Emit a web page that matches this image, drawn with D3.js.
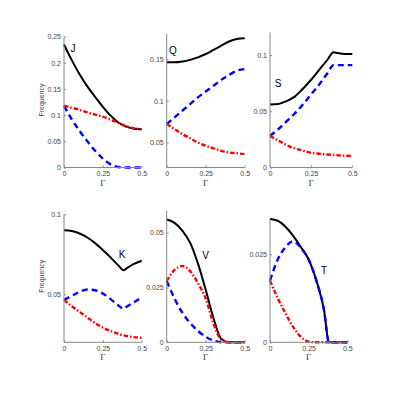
<!DOCTYPE html>
<html>
<head>
<meta charset="utf-8">
<script src="https://cdn.jsdelivr.net/npm/d3@7"></script>
<style>
  body { margin: 0; background: #fff; }
  .tick-label { font-family: "Liberation Sans", Arial, sans-serif; font-size: 7px; fill: #444; }
  .axis-title { font-family: "Liberation Sans", Arial, sans-serif; font-size: 7px; fill: #444; }
  .gamma { font-family: "Liberation Serif", serif; font-size: 9px; fill: #333; }
  .panel-name { font-family: "Liberation Sans", Arial, sans-serif; font-size: 10px; fill: #000; }
</style>
</head>
<body>
<div id="chart"></div>
<script>
// Γ grid
const gammaJ = [0, 0.05, 0.1, 0.15, 0.2, 0.25, 0.3, 0.35, 0.4, 0.45, 0.5];

// J
const jBlack = [0.235, 0.205, 0.178, 0.155, 0.135, 0.116, 0.099, 0.086, 0.078, 0.074, 0.073];
const jRed   = [0.118, 0.114, 0.110, 0.105, 0.101, 0.097, 0.091, 0.085, 0.079, 0.075, 0.073];
const jBlue  = [0.118, 0.092, 0.070, 0.050, 0.032, 0.017, 0.006, 0.001, 0, 0, 0];

// Q
const qBlack = [0.146, 0.146, 0.147, 0.149, 0.152, 0.156, 0.161, 0.166, 0.171, 0.174, 0.175];
const qBlue  = [0.072, 0.080, 0.088, 0.096, 0.104, 0.111, 0.118, 0.125, 0.131, 0.136, 0.138];
const qRed   = [0.072, 0.066, 0.060, 0.055, 0.050, 0.046, 0.043, 0.040, 0.038, 0.037, 0.036];

// S (kink near 0.385)
const gammaS = [0, 0.05, 0.1, 0.15, 0.2, 0.25, 0.3, 0.35, 0.385, 0.4, 0.45, 0.5];
const sBlack = [0.056, 0.0565, 0.059, 0.063, 0.070, 0.078, 0.087, 0.096, 0.1025, 0.102, 0.101, 0.101];
const sBlue  = [0.028, 0.034, 0.041, 0.048, 0.056, 0.065, 0.074, 0.084, 0.091, 0.091, 0.091, 0.091];
const sRed   = [0.028, 0.024, 0.020, 0.017, 0.015, 0.013, 0.0122, 0.0115, 0.0112, 0.011, 0.0105, 0.0102];

// K (kink near 0.385)
const gammaK = [0, 0.05, 0.1, 0.15, 0.2, 0.25, 0.3, 0.35, 0.385, 0.4, 0.45, 0.5];
const kBlack = [0.090, 0.0895, 0.088, 0.0855, 0.082, 0.0777, 0.073, 0.068, 0.065, 0.066, 0.069, 0.071];
const kBlue  = [0.0465, 0.049, 0.0515, 0.053, 0.0525, 0.0505, 0.047, 0.043, 0.041, 0.042, 0.045, 0.048];
const kRed   = [0.0465, 0.0425, 0.039, 0.0355, 0.032, 0.0292, 0.027, 0.0252, 0.0243, 0.024, 0.0232, 0.0228];

// V
const vBlack = [0.056, 0.0545, 0.051, 0.0455, 0.036, 0.024, 0.011, 0.0015, 0, 0, 0];
const vRed   = [0.028, 0.033, 0.0348, 0.0325, 0.027, 0.020, 0.0085, 0.0012, 0, 0, 0];
const vBlue  = [0.028, 0.020, 0.0135, 0.0088, 0.0052, 0.0025, 0.0008, 0, 0, 0, 0];

// T (falls to zero at 0.381)
const gammaT = [0, 0.05, 0.1, 0.15, 0.2, 0.25, 0.3, 0.35, 0.381, 0.4, 0.45, 0.5];
const tBlack = [0.035, 0.0345, 0.0328, 0.0302, 0.027, 0.0235, 0.0175, 0.009, 0, 0, 0, 0];
const tBlue  = [0.0175, 0.0235, 0.027, 0.0287, 0.0268, 0.0235, 0.0175, 0.009, 0, 0, 0, 0];
const tRed   = [0.0175, 0.0125, 0.0082, 0.0043, 0.0015, 0.0002, 0, 0, 0, 0, 0, 0];

const xTicks = [0, 0.25, 0.5];
const xTickLabels = ['0', '0.25', '0.5'];

const W = 399, H = 399;
const svg = d3.select('#chart').append('svg').attr('width', W).attr('height', H);

const styles = {
  black: { stroke: '#000', width: 2, dash: null },
  blue:  { stroke: '#0000ff', width: 2.4, dash: '6,4' },
  red:   { stroke: '#ff0000', width: 2.4, dash: '4.5,2,1.5,2' }
};

// パネル定義 (位置はピクセル、値は配列から)
const panels = [
  { name: 'J', x: gammaJ, series: [['black', jBlack], ['blue', jBlue], ['red', jRed]],
    left: 64, right: 141.7, top: 36.6, bottom: 167.5, yDomain: [0, 0.25],
    yTicks: [0, 0.05, 0.1, 0.15, 0.2, 0.25], yLabels: ['0', '0.05', '0.1', '0.15', '0.2', '0.25'],
    label: [0.058, 0.228], ylabel: true },
  { name: 'Q', x: gammaJ, series: [['black', qBlack], ['blue', qBlue], ['red', qRed]],
    left: 166.7, right: 244.7, top: 34, bottom: 167.5, yDomain: [0.02, 0.18],
    yTicks: [0.05, 0.1, 0.15], yLabels: ['0.05', '0.1', '0.15'],
    label: [0.04, 0.16] },
  { name: 'S', x: gammaS, series: [['black', sBlack], ['blue', sBlue], ['red', sRed]],
    left: 270, right: 352.3, top: 32.5, bottom: 167.5, yDomain: [0, 0.12],
    yTicks: [0, 0.05, 0.1], yLabels: ['0', '0.05', '0.1'],
    label: [0.049, 0.0746] },
  { name: 'K', x: gammaK, series: [['black', kBlack], ['blue', kBlue], ['red', kRed]],
    left: 64, right: 141.7, top: 214.3, bottom: 342.3, yDomain: [0.02, 0.1],
    yTicks: [0.05, 0.1], yLabels: ['0.05', '0.1'],
    label: [0.373, 0.0746], ylabel: true },
  { name: 'V', x: gammaJ, series: [['black', vBlack], ['blue', vBlue], ['red', vRed]],
    left: 166.7, right: 244.7, top: 210.8, bottom: 342.3, yDomain: [0, 0.06],
    yTicks: [0, 0.025, 0.05], yLabels: ['0', '0.025', '0.05'],
    label: [0.25, 0.0398] },
  { name: 'T', x: gammaT, series: [['black', tBlack], ['red', tRed], ['blue', tBlue]],
    left: 270, right: 347.3, top: 219, bottom: 342.3, yDomain: [0, 0.035],
    yTicks: [0, 0.025], yLabels: ['0', '0.025'],
    label: [0.35, 0.0203] }
];

panels.forEach(p => {
  const x = d3.scaleLinear().domain([0, 0.5]).range([p.left, p.right]);
  const y = d3.scaleLinear().domain(p.yDomain).range([p.bottom, p.top]);
  const g = svg.append('g');

  // 曲線
  const line = d3.line()
    .x((d, i) => x(p.x[i]))
    .y(d => y(d))
    .curve(d3.curveMonotoneX);

  p.series.forEach(([key, vals]) => {
    const s = styles[key];
    g.append('path')
      .attr('d', line(vals))
      .attr('fill', 'none')
      .attr('stroke', s.stroke)
      .attr('stroke-width', s.width)
      .attr('stroke-dasharray', s.dash);
  });

  // 軸
  const yAxis = d3.axisLeft(y).tickValues(p.yTicks)
    .tickFormat((d, i) => p.yLabels[i]).tickSize(-2).tickPadding(3);
  const ya = g.append('g').attr('transform', `translate(${p.left},0)`).call(yAxis);
  const xAxis = d3.axisBottom(x).tickValues(xTicks)
    .tickFormat((d, i) => xTickLabels[i]).tickSize(-2).tickPadding(4);
  const xa = g.append('g').attr('transform', `translate(0,${p.bottom})`).call(xAxis);

  [ya, xa].forEach(a => {
    a.select('.domain').attr('stroke', '#888').attr('stroke-width', 1);
    a.selectAll('.tick line').attr('stroke', '#888');
    a.selectAll('.tick text').attr('class', 'tick-label').attr('fill', null);
  });
  ya.select('.domain').attr('d', `M0,${p.bottom}V${p.top}`);
  xa.select('.domain').attr('d', `M${p.left},0H${p.right}`);

  g.append('text')
    .attr('class', 'gamma')
    .attr('x', x(0.25))
    .attr('y', p.bottom + 18)
    .attr('text-anchor', 'middle')
    .text('Γ');

  if (p.ylabel) {
    g.append('text')
      .attr('class', 'axis-title')
      .attr('transform', `translate(44,${(p.top + p.bottom) / 2 - 2}) rotate(-90)`)
      .attr('text-anchor', 'middle')
      .text('Frequency');
  }

  g.append('text')
    .attr('class', 'panel-name')
    .attr('x', x(p.label[0]))
    .attr('y', y(p.label[1]))
    .attr('text-anchor', 'middle')
    .attr('dominant-baseline', 'central')
    .text(p.name);
});
</script>
</body>
</html>
